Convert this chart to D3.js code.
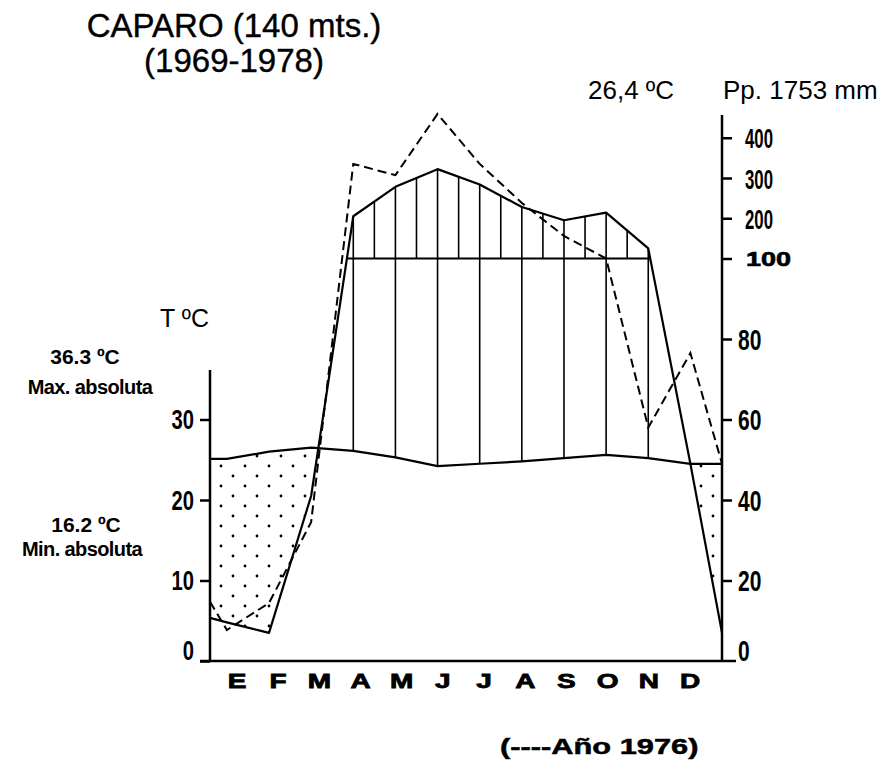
<!DOCTYPE html>
<html><head><meta charset="utf-8">
<script src="https://cdn.jsdelivr.net/npm/d3@7"></script>
<style>body{margin:0;background:#fff}svg{display:block}</style>
</head><body>
<svg id="chart" width="880" height="763"></svg>
<script>
// ---- data ----
const months = ["E","F","M","A","M","J","J","A","S","O","N","D"];
const tempMean = [25.1, 26.0, 26.5, 26.1, 25.3, 24.2, 24.5, 24.8, 25.2, 25.6, 25.2, 24.5]; // °C
const tempEdges = [25.1, 24.5];            // values drawn at the left / right axes
const precipMean = [9.6, 7.0, 41, 205, 278, 322, 284, 228, 195, 214, 125, 49]; // mm
const precipEdges = [10.7, 7];
const precip1976 = [7.7, 14.4, 34.5, 335, 307, 459, 335, 238, 156, 100, 58, 76.5]; // mm
const precip1976Edges = [14.7, 49];
const tempTicks = [0, 10, 20, 30];
const precipTicks = [0, 20, 40, 60, 80, 100, 200, 300, 400];
const titleLines = ["CAPARO (140 mts.)", "(1969-1978)"];

// ---- layout ----
const FONT = "'Liberation Sans', Arial, Helvetica, sans-serif";
const xL = 210, xR = 722, yBase = 661;
const svg = d3.select("#chart");

// month index scale (left axis at -0.4, right axis at 11.75)
const x = d3.scaleLinear().domain([-0.4, 11.75]).range([xL, xR]);
const edgeIdx = [-0.4, 11.75];
// temperature scale and Walter-Lieth precipitation scale (20 mm = 10 °C, 1/10 above 100 mm)
const yT = d3.scaleLinear().domain([0, 50]).range([yBase, 258.5]);
const yP = d3.scaleLinear().domain([0, 100, 500]).range([yBase, 258.5, 97.5]);
const labelX = d3.scalePoint().domain(d3.range(12)).range([237, 690]);

function pts(vals, edges, y) {
  return [[x(edgeIdx[0]), y(edges[0])]]
    .concat(vals.map((v, i) => [x(i), y(v)]))
    .concat([[x(edgeIdx[1]), y(edges[1])]]);
}
function interpY(points, px) {
  for (let k = 0; k < points.length - 1; k++) {
    const [x0, y0] = points[k], [x1, y1] = points[k + 1];
    if (px >= x0 && px <= x1) return y0 + (y1 - y0) * (px - x0) / (x1 - x0);
  }
  return null;
}
function crossings(points, yc) {
  const out = [];
  for (let k = 0; k < points.length - 1; k++) {
    const [x0, y0] = points[k], [x1, y1] = points[k + 1];
    if ((y0 - yc) * (y1 - yc) <= 0 && y0 !== y1) out.push(x0 + (x1 - x0) * (yc - y0) / (y1 - y0));
  }
  return out;
}

const tPts = pts(tempMean, tempEdges, yT);
const pPts = pts(precipMean, precipEdges, yP);
const dPts = pts(precip1976, precip1976Edges, yP);
const line = d3.line();

// ---- dotted dry season ----
const defs = svg.append("defs");
const pat = defs.append("pattern").attr("id", "dots").attr("patternUnits", "userSpaceOnUse")
  .attr("width", 24).attr("height", 20);
pat.append("circle").attr("cx", 5).attr("cy", 6).attr("r", 1.4).attr("fill", "#000");
pat.append("circle").attr("cx", 17).attr("cy", 16).attr("r", 1.4).attr("fill", "#000");
defs.append("clipPath").attr("id", "belowTemp").append("path")
  .attr("d", line(tPts) + `L${x(edgeIdx[1])},${yBase}L${x(edgeIdx[0])},${yBase}Z`);
svg.append("g").attr("clip-path", "url(#belowTemp)").append("path")
  .attr("d", line(pPts) + `L${x(edgeIdx[1])},0L${x(edgeIdx[0])},0Z`)
  .attr("fill", "url(#dots)");

// ---- hatching of humid season ----
const hatch = svg.append("g").attr("stroke", "#000").attr("stroke-width", 1.6);
d3.range(3, 11).forEach(i => {
  if (precipMean[i] / 2 > tempMean[i]) {
    hatch.append("line").attr("x1", x(i)).attr("x2", x(i))
      .attr("y1", yT(tempMean[i])).attr("y2", yP(precipMean[i]));
  }
});
d3.range(3, 10).forEach(i => {
  const px = x(i + 0.5), top = interpY(pPts, px);
  if (top < yP(100)) hatch.append("line").attr("x1", px).attr("x2", px)
    .attr("y1", yP(100)).attr("y2", top);
});
const c100 = crossings(pPts, yP(100));
svg.append("line").attr("x1", c100[0]).attr("x2", c100[c100.length - 1])
  .attr("y1", yP(100)).attr("y2", yP(100)).attr("stroke", "#000").attr("stroke-width", 1.8);

// ---- curves ----
svg.append("path").attr("d", line(tPts)).attr("fill", "none").attr("stroke", "#000").attr("stroke-width", 2.2);
svg.append("path").attr("d", line(pPts)).attr("fill", "none").attr("stroke", "#000").attr("stroke-width", 2.2)
  .attr("stroke-linejoin", "round");
svg.append("path").attr("d", line(dPts)).attr("fill", "none").attr("stroke", "#000").attr("stroke-width", 2)
  .attr("stroke-dasharray", "9,5");

// ---- axes ----
svg.append("line").attr("x1", 200).attr("x2", 736).attr("y1", yBase).attr("y2", yBase)
  .attr("stroke", "#000").attr("stroke-width", 2.5);
svg.append("line").attr("x1", xL).attr("x2", xL).attr("y1", 370).attr("y2", yBase)
  .attr("stroke", "#000").attr("stroke-width", 2.5);
svg.append("line").attr("x1", xR).attr("x2", xR).attr("y1", 115).attr("y2", yBase)
  .attr("stroke", "#000").attr("stroke-width", 2.5);

const gL = svg.append("g").attr("transform", `translate(${xL},0)`)
  .call(d3.axisLeft(yT).tickValues(tempTicks).tickSize(10).tickFormat(d3.format("d")));
gL.select(".domain").remove();
gL.selectAll(".tick line").attr("stroke-width", 2.5);
gL.selectAll(".tick text").attr("x", null).attr("dy", null)
  .attr("transform", d => `translate(-16,${d === 0 ? -2 : 9}) scale(0.72,1)`)
  .attr("font-family", FONT).attr("font-weight", "bold").attr("font-size", 28).attr("fill", "#000");

const gR = svg.append("g").attr("transform", `translate(${xR},0)`)
  .call(d3.axisRight(yP).tickValues(precipTicks).tickSize(10).tickFormat(d3.format("d")));
gR.select(".domain").remove();
gR.selectAll(".tick line").attr("stroke-width", 2.5).attr("display", d => d === 0 ? "none" : null);
gR.selectAll(".tick text").attr("x", null).attr("dy", null)
  .attr("font-family", FONT).attr("font-weight", "bold").attr("fill", "#000")
  .attr("stroke", d => d === 100 ? "#000" : null).attr("stroke-width", 0.6)
  .attr("font-size", d => d === 100 ? 20 : (d > 100 ? 28 : 30))
  .attr("transform", d => d === 100 ? "translate(24,7) scale(1.35,1)"
    : d > 100 ? "translate(23,10) scale(0.6,1)"
    : `translate(16,${d === 0 ? -1 : 10}) scale(0.7,1)`);

// month labels
svg.append("g").selectAll("text").data(months).join("text")
  .attr("transform", (d, i) => `translate(${labelX(i)},688) scale(1.4,1)`)
  .attr("text-anchor", "middle").attr("font-family", FONT).attr("font-weight", "bold")
  .attr("stroke", "#000").attr("stroke-width", 0.8)
  .attr("font-size", 20).text(d => d);

// ---- texts ----
const T = (txt, px, py, size, weight, anchor, extra) => {
  const t = svg.append("text").attr("x", px).attr("y", py).attr("font-family", FONT)
    .attr("font-size", size).attr("font-weight", weight || "normal")
    .attr("text-anchor", anchor || "start").attr("fill", "#000").text(txt);
  if (extra) extra(t);
  return t;
};
T(titleLines[0], 234, 37, 33, "normal", "middle", t => t.attr("stroke", "#000").attr("stroke-width", 0.4));
T(titleLines[1], 234, 72, 33, "normal", "middle", t => t.attr("stroke", "#000").attr("stroke-width", 0.4));
T("26,4 ºC", 588, 99, 26);
T("Pp. 1753 mm", 723, 99, 26);
T("T ºC", 160, 327, 25);
T("36.3 ºC", 85, 364, 21, "bold", "middle");
T("Max. absoluta", 90, 394, 20, "bold", "middle", t => t.attr("letter-spacing", -0.6));
T("16.2 ºC", 86, 532, 21, "bold", "middle");
T("Min. absoluta", 82, 556, 20, "bold", "middle", t => t.attr("letter-spacing", -0.6));
svg.append("text").attr("transform", "translate(500,754) scale(1.4,1)")
  .attr("font-family", FONT).attr("font-weight", "bold").attr("font-size", 22)
  .attr("stroke", "#000").attr("stroke-width", 0.5).text("(----Año 1976)");
</script>
</body></html>
